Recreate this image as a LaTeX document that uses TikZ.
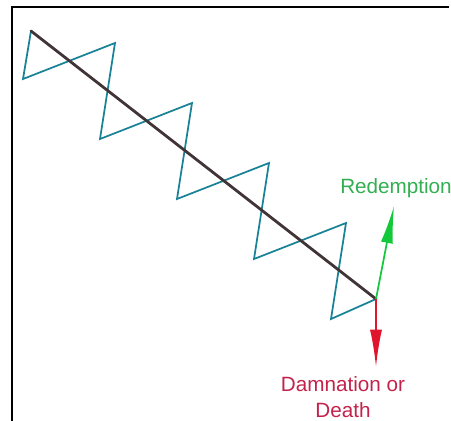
\documentclass[tikz,border=0pt]{standalone}
\usepackage{fontspec}
\setmainfont{Liberation Sans}
\usetikzlibrary{arrows.meta}
\definecolor{zigteal}{RGB}{25,130,150}
\definecolor{pathgray}{RGB}{65,52,55}
\definecolor{redeemgreen}{RGB}{20,200,60}
\definecolor{redeemtext}{RGB}{50,175,80}
\definecolor{damnred}{RGB}{225,20,45}
\definecolor{damntext}{RGB}{195,35,75}
\tikzset{
    frame/.style={black, line width=1.5pt},
    zigzag/.style={zigteal, line width=1.3pt, line join=miter},
    fall/.style={pathgray, line width=2.1pt, line cap=round},
    choice/.style={line width=1.3pt, -{Latex[length=28pt, width=9pt]}},
    label text/.style={font=\fontsize{15.5}{19}\selectfont, inner sep=0pt, align=center},
    common settings/.style={x=0.75pt, y=-0.75pt}
}
\begin{document}
\begin{tikzpicture}[common settings]

    \useasboundingbox (0,0) rectangle (451,421);

    \def\dx{77}   % horizontal step of one tooth
    \def\dy{60}   % vertical step of one tooth

    % Frame (only left and top edges show)
    \draw[frame] (12,421) -- (12,7) -- (449,7);

    % Key points of the fall
    \coordinate (start) at (31,31);
    \coordinate (end) at (376,299);

    % Zigzag of attempts
    \draw[zigzag] (start)
        \foreach \i in {0,...,3}{
            -- ({23+\dx*\i},{79+\dy*\i}) -- ({115+\dx*\i},{43+\dy*\i})
        }
        -- (331,319) -- (end);

    % Straight line of the fall
    \draw[fall] (start) -- (end);

    % Labels
    \node[label text, text=redeemtext, anchor=base] (redeem) at (396,193) {Redemption};
    \node[label text, text=damntext, anchor=base] (damn) at (343,417) {Damnation or\\Death};

    % Outcomes
    \coordinate (up) at (394,206);
    \coordinate (down) at (376,367);
    \draw[choice, redeemgreen] (end) -- (up);
    \draw[choice, damnred] (end) -- (down);

\end{tikzpicture}
\end{document}
